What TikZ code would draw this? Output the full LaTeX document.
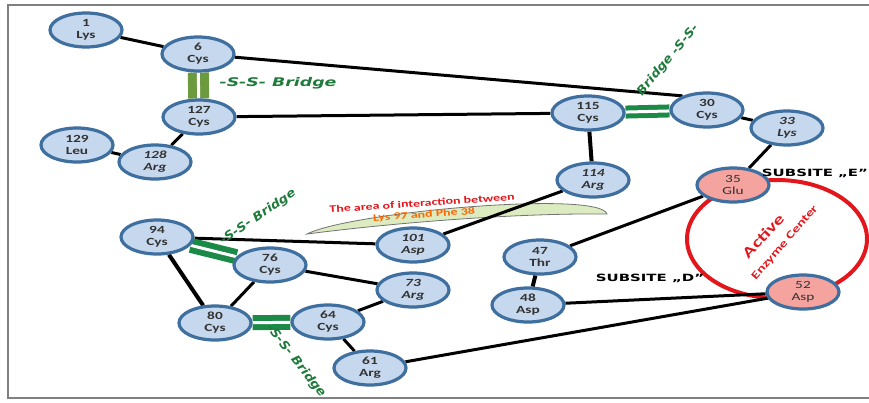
\documentclass[tikz,border=0pt]{standalone}
\usepackage{fontspec}
\setmainfont[FakeStretch=1.4]{Carlito}
\newfontfamily\tagfont[FakeStretch=1.45]{DejaVu Sans}
\newfontfamily\tagfontr[FakeStretch=1.1]{DejaVu Sans}
\newfontfamily\subfont[FakeStretch=1.5]{DejaVu Sans}
\usepackage{tikz}
\usetikzlibrary{shapes,backgrounds}
\usepackage{xcolor}
\definecolor{resfill}{HTML}{C6D8EE}
\definecolor{resline}{HTML}{3F6F9F}
\definecolor{actfill}{HTML}{F4A39E}
\definecolor{ssgreen}{HTML}{1B8A46}
\definecolor{ssolive}{HTML}{6C9A3E}
\definecolor{sstext}{HTML}{1F7A3C}
\definecolor{actred}{HTML}{E3161C}
\definecolor{areafill}{HTML}{DCEBC0}
\tikzstyle{res}=[ellipse, draw=resline, line width=3.2bp, fill=resfill, minimum width=72bp, minimum height=34bp, inner sep=0pt, align=center, text=black!80, font=\fontsize{11}{12}\selectfont\bfseries]
\tikzstyle{resit}=[res, font=\fontsize{11}{12}\selectfont\bfseries\itshape]
\tikzstyle{act}=[res, fill=actfill, font=\fontsize{11}{12}\selectfont]
\tikzstyle{bond}=[line width=3bp]
\tikzstyle{heavybond}=[line width=4bp]
\tikzstyle{ssbond}=[draw=ssgreen, line width=6bp, double=white, double distance=3bp]
\tikzstyle{sstag}=[text=sstext, inner sep=0pt, font=\tagfontr\fontsize{12}{14}\selectfont\bfseries\itshape]
\tikzstyle{subtag}=[inner sep=0pt, font=\subfont\fontsize{10}{12}\selectfont\bfseries]
\tikzstyle{redtag}=[text=actred, inner sep=0pt, font=\fontsize{10}{11}\selectfont\bfseries]

\begin{document}
\begin{tikzpicture}[x=1bp, y=-1bp]
	\useasboundingbox (0,0) rectangle (869,402);
	\node[res] (n1) at (86,30) {1\\Lys};
	\node[res] (n6) at (198,54) {6\\Cys};
	\node[res] (n127) at (199,117) {127\\Cys};
	\node[res] (n129) at (77,145) {129\\Leu};
	\node[resit] (n128) at (155,162) {128\\Arg};
	\node[res] (n115) at (588,113) {115\\Cys};
	\node[res] (n30) at (707,110) {30\\Cys};
	\node[resit] (n33) at (787,128) {33\\Lys};
	\node[resit] (n114) at (593,180) {114\\Arg};
	\node[act] (n35) at (733,185) {35\\Glu};
	\node[res] (n94) at (157,237) {94\\Cys};
	\node[res] (n76) at (270,265) {76\\Cys};
	\node[res] (n80) at (215,323) {80\\Cys};
	\node[res] (n64) at (328,322) {64\\Cys};
	\node[resit] (n73) at (413,290) {73\\Arg};
	\node[resit] (n101) at (413,245) {101\\Asp};
	\node[res] (n61) at (370,368) {61\\Arg};
	\node[res] (n47) at (540,257) {47\\Thr};
	\node[res] (n48) at (528,305) {48\\Asp};
	\node[act] (n52) at (803,292) {52\\Asp};

	\node[sstag, font=\tagfont\fontsize{12}{14}\selectfont\bfseries\itshape] (ssA) at (278,83) {-S-S- Bridge};
	\node[sstag, rotate=50] (ssB) at (668,60) {Bridge -S-S-};
	\node[sstag, rotate=34] (ssC) at (258,217) {-S-S- Bridge};
	\node[sstag, rotate=-52] (ssD) at (296,361) {-S-S- Bridge};
	\node[subtag] (subE) at (815,173) {SUBSITE „E”};
	\node[subtag] (subD) at (650,278) {SUBSITE „D”};
	\node[redtag, rotate=47, font=\fontsize{15}{16}\selectfont\bfseries] (actA) at (763,236) {Active};
	\node[redtag, rotate=49, font=\fontsize{11}{12}\selectfont\bfseries] (actB) at (785,243) {Enzyme Center};
	\node[redtag, rotate=4] (areaA) at (422,203) {The area of interaction between};
	\node[redtag, rotate=4, text=orange!80!red] (areaB) at (424,215) {Lys 97 and Phe 38};

	\begin{scope}[on background layer]
		\draw[gray, line width=1.5bp] (869,5) -- (8,5) -- (8,398) -- (869,398);
		\draw[fill=areafill, draw=black!55, line width=0.8bp] (307,234) .. controls (350,212) and (600,190) .. (607,214) .. controls (520,213) and (400,222) .. (307,234) -- cycle;
		\draw[actred, line width=4bp] (777,239) ellipse [x radius=90, y radius=59];
		\draw[bond] (n1) -- (n6);
		\draw[bond] (n6) -- (n30.150);
		\draw[bond] (n127) -- (n115);
		\draw[bond] (n127) -- (n128);
		\draw[bond] (n128) -- (n129);
		\draw[heavybond] (n115) -- (n114);
		\draw[bond] (n114) -- (n101);
		\draw[bond] (n30) -- (n33);
		\draw[bond] (n33) -- (n35);
		\draw[bond] (n35) -- (n47);
		\draw[heavybond] (n47) -- (n48);
		\draw[bond] (n48) -- (n52);
		\draw[bond] (n52) -- (n61);
		\draw[bond] (n61) -- (n64);
		\draw[bond] (n64) -- (n73);
		\draw[bond] (n73) -- (n76);
		\draw[bond] (n76) -- (n80);
		\draw[heavybond] (n80) -- (n94);
		\draw[bond] (n94) -- (n101);
		\draw[ssbond, draw=ssolive, line width=9bp] (n6) -- (n127);
		\draw[ssbond, line width=5bp] (n115) -- (n30);
		\draw[ssbond] (n94) -- (n76);
		\draw[ssbond] (n80) -- (n64);
	\end{scope}
\end{tikzpicture}
\end{document}
